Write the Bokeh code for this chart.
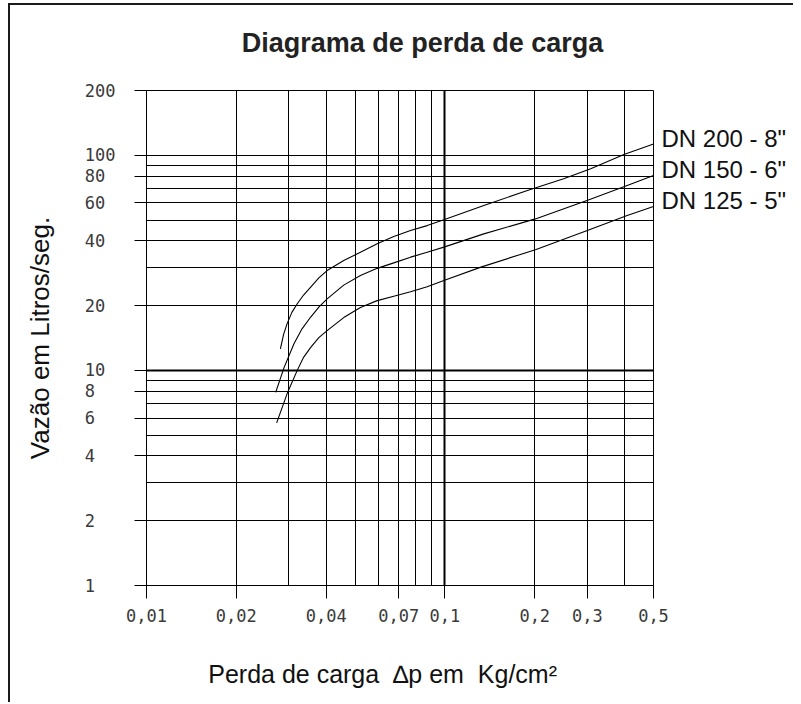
from bokeh.plotting import figure
from bokeh.models import Range1d, FixedTicker, Grid, LogAxis
from bokeh.embed import file_html
from bokeh.resources import INLINE

# ---------------- data ----------------
x_major = [0.01, 0.02, 0.04, 0.07, 0.1, 0.2, 0.3, 0.5]
x_major_labels = ["0,01", "0,02", "0,04", "0,07", "0,1", "0,2", "0,3", "0,5"]
x_grid = [0.02, 0.03, 0.04, 0.05, 0.06, 0.07, 0.08, 0.09, 0.1, 0.2, 0.3, 0.4, 0.5]
x_heavy = [0.1]

y_major = [1, 2, 4, 6, 8, 10, 20, 40, 60, 80, 100, 200]
y_major_labels = ["1", "2", "4", "6", "8", "10", "20", "40", "60", "80", "100", "200"]
y_grid = [2, 3, 4, 5, 6, 7, 8, 9, 10, 20, 30, 40, 50, 60, 70, 80, 90, 100, 200]
y_heavy = [10]

dn200_x = [0.0281, 0.0288, 0.0296, 0.0307, 0.0320, 0.0336, 0.0355, 0.0378, 0.0403,
           0.0458, 0.0521, 0.0593, 0.0674, 0.0767, 0.0872, 0.0992, 0.135, 0.189,
           0.250, 0.308, 0.398, 0.5]
dn200_y = [12.6, 14.7, 16.5, 18.6, 20.4, 22.4, 24.4, 26.9, 29.1,
           32.4, 35.4, 38.8, 41.9, 44.7, 47.1, 50.1, 58.4, 68.6,
           77.7, 86.5, 100.8, 112.8]

dn150_x = [0.0271, 0.0289, 0.0312, 0.0332, 0.0355, 0.0378, 0.0403, 0.0458, 0.0521,
           0.0593, 0.0674, 0.0767, 0.0872, 0.0992, 0.135, 0.201, 0.304, 0.408, 0.5]
dn150_y = [7.9, 10.3, 13.3, 15.6, 17.7, 19.7, 21.5, 24.9, 27.6,
           29.8, 31.6, 33.6, 35.4, 37.4, 43.1, 50.6, 62.1, 72.3, 80.5]

dn125_x = [0.0273, 0.0296, 0.0320, 0.0336, 0.0355, 0.0378, 0.0403, 0.0458, 0.0521,
           0.0593, 0.0674, 0.0767, 0.0872, 0.0992, 0.132, 0.201, 0.300, 0.408, 0.5]
dn125_y = [5.7, 7.8, 10.0, 11.5, 12.8, 14.2, 15.3, 17.6, 19.6,
           21.1, 22.1, 23.2, 24.5, 26.2, 30.2, 36.4, 44.7, 52.5, 57.8]

curve_names = ["DN 200 - 8\"", "DN 150 - 6\"", "DN 125 - 5\""]
curves = [(dn200_x, dn200_y), (dn150_x, dn150_y), (dn125_x, dn125_y)]

title_text = "Diagrama de perda de carga"
x_title = "Perda de carga \u00a0\u2206p em \u00a0Kg/cm\u00b2"
y_title = "Vaz\u00e3o em Litros/seg."

NB = "\u00a0"

# ---------------- figure ----------------
p = figure(
    x_axis_type="log", y_axis_type="log",
    x_range=Range1d(x_major[0], x_major[-1]), y_range=Range1d(y_major[0], y_major[-1]),
    frame_width=507, frame_height=495,
    min_border_left=136, min_border_right=140, min_border_top=85, min_border_bottom=117,
    output_backend="svg", toolbar_location=None,
)
p.styles = {"border-left": "2px solid #1a1a1a", "border-top": "2px solid #1a1a1a",
            "margin-left": "8px", "margin-top": "3px"}
p.outline_line_color = "black"
p.outline_line_width = 1
p.background_fill_color = "white"
p.border_fill_color = "white"

tick_font = "DejaVu Sans Mono"

# x axis (bottom)
xa = p.below[0]
xa.ticker = FixedTicker(ticks=x_major, minor_ticks=[])
xa.major_label_overrides = {v: s for v, s in zip(x_major, x_major_labels)}
xa.major_tick_out = 13
xa.major_tick_in = 0
xa.minor_tick_out = 0
xa.minor_tick_in = 0
xa.axis_line_color = "black"
xa.major_tick_line_color = "black"
xa.major_label_standoff = 10
xa.major_label_text_font = tick_font
xa.major_label_text_font_size = "17px"
xa.major_label_text_color = "#3a3a3a"
xa.axis_label = x_title + NB * 5
xa.axis_label_standoff = 35
xa.axis_label_text_font = "Liberation Sans"
xa.axis_label_text_font_style = "normal"
xa.axis_label_text_font_size = "25px"
xa.axis_label_text_color = "#111111"

# y axis: labels padded with no-break spaces so they read left-aligned (monospace)
ya = p.left[0]
ya.ticker = FixedTicker(ticks=y_major, minor_ticks=[])
ya.major_label_overrides = {v: s + NB * (3 - len(s)) for v, s in zip(y_major, y_major_labels)}
ya.major_tick_out = 12
ya.major_tick_in = 0
ya.minor_tick_out = 0
ya.minor_tick_in = 0
ya.axis_line_color = "black"
ya.major_tick_line_color = "black"
ya.major_label_standoff = 19
ya.major_label_text_font = tick_font
ya.major_label_text_font_size = "17px"
ya.major_label_text_color = "#3a3a3a"
ya.axis_label = y_title
ya.axis_label_standoff = 27
ya.axis_label_text_font = "Liberation Sans"
ya.axis_label_text_font_style = "normal"
ya.axis_label_text_font_size = "26px"
ya.axis_label_text_color = "#111111"

# title, drawn as the label of a bare axis above the frame
ta = LogAxis(ticker=FixedTicker(ticks=[], minor_ticks=[]))
ta.axis_line_color = None
ta.major_tick_line_color = None
ta.minor_tick_line_color = None
ta.major_tick_out = 0
ta.major_tick_in = 0
ta.major_label_text_font_size = "0px"
ta.axis_label = NB * 6 + title_text
ta.axis_label_standoff = 33
ta.axis_label_text_font = "Liberation Sans"
ta.axis_label_text_font_style = "bold"
ta.axis_label_text_font_size = "27px"
ta.axis_label_text_color = "#222222"
p.add_layout(ta, "above")

# grids
p.xgrid.ticker = FixedTicker(ticks=x_grid)
p.xgrid.grid_line_color = "black"
p.xgrid.grid_line_alpha = 1
p.xgrid.grid_line_width = 1
p.ygrid.ticker = FixedTicker(ticks=y_grid)
p.ygrid.grid_line_color = "black"
p.ygrid.grid_line_alpha = 1
p.ygrid.grid_line_width = 1
p.add_layout(Grid(dimension=0, ticker=FixedTicker(ticks=x_heavy),
                  grid_line_color="black", grid_line_width=2))
p.add_layout(Grid(dimension=1, ticker=FixedTicker(ticks=y_heavy),
                  grid_line_color="black", grid_line_width=2))

# curves
for xs, ys in curves:
    p.line(xs, ys, line_color="black", line_width=1.1, line_join="round")

# curve names on a right-hand axis, placed just above each curve's end
name_pos = [ys[-1] * 1.065 for _, ys in curves]
ra = LogAxis(ticker=FixedTicker(ticks=name_pos, minor_ticks=[]))
ra.major_label_overrides = {v: n for v, n in zip(name_pos, curve_names)}
ra.axis_line_color = None
ra.major_tick_line_color = None
ra.minor_tick_line_color = None
ra.major_tick_out = 0
ra.major_tick_in = 0
ra.major_label_standoff = 8
ra.major_label_text_font = "Liberation Sans"
ra.major_label_text_font_size = "24px"
ra.major_label_text_color = "#111111"
p.add_layout(ra, "right")

open("out.html", "w").write(file_html(p, INLINE))
